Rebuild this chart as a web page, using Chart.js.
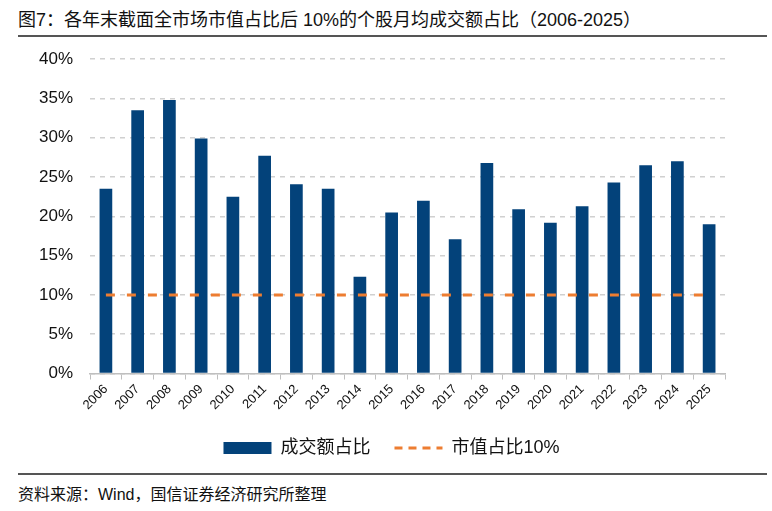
<!DOCTYPE html>
<html>
<head>
<meta charset="utf-8">
<script src="https://cdn.jsdelivr.net/npm/chart.js@4/dist/chart.umd.min.js"></script>
<style>
  body { margin: 0; background: #fff; }
  #wrap { position: relative; width: 772px; height: 511px; font-family: "Liberation Sans", "Noto Sans CJK SC", sans-serif; }
  #title { position: absolute; left: 18px; top: 5px; font-size: 18px; color: #111; white-space: nowrap; }
  #line1 { position: absolute; left: 18px; width: 749px; top: 35px; height: 0; border-top: 2px solid #555; }
  #line2 { position: absolute; left: 18px; width: 749px; top: 473px; height: 0; border-top: 2px solid #555; }
  #src { position: absolute; left: 18px; top: 481px; font-size: 16px; color: #111; white-space: nowrap; }
  #box { position: absolute; left: 0; top: 32px; width: 772px; height: 441px; }
</style>
</head>
<body>
<div id="wrap">
  <div id="title">图7：各年末截面全市场市值占比后 10%的个股月均成交额占比（2006-2025）</div>
  <div id="line1"></div>
  <div id="box"><canvas id="chart"></canvas></div>
  <div id="line2"></div>
  <div id="src">资料来源：Wind，国信证券经济研究所整理</div>
</div>
<script>
var years     = ['2006','2007','2008','2009','2010','2011','2012','2013','2014','2015',
                 '2016','2017','2018','2019','2020','2021','2022','2023','2024','2025'];
var turnover  = [23.5, 33.5, 34.8, 29.9, 22.5, 27.7, 24.1, 23.5, 12.3, 20.5,
                 22.0, 17.1, 26.8, 20.9, 19.2, 21.3, 24.3, 26.5, 27.0, 19.0];
var mktShare  = [10, 10, 10, 10, 10, 10, 10, 10, 10, 10,
                 10, 10, 10, 10, 10, 10, 10, 10, 10, 10];
var yTicks    = [0, 5, 10, 15, 20, 25, 30, 35, 40];

Chart.defaults.font.family = '"Liberation Sans", "Noto Sans CJK SC", sans-serif';
Chart.defaults.color = '#111';

// legend sits a bit right of the plot centre in the original
var legendShift = {
    id: 'legendShift',
    afterLayout: function(c) {
        if (c.legend) {
            c.legend.left  += 18;
            c.legend.right += 18;
        }
    }
};

var ctx = document.getElementById('chart');
var chart = new Chart(ctx, {
    type: 'bar',
    data: {
        labels: years,
        datasets: [
            {
                type: 'bar',
                label: '成交额占比',
                data: turnover,
                backgroundColor: '#03427A',
                borderWidth: 0,
                barPercentage: 0.4,
                categoryPercentage: 1,
                pointStyle: 'rect',
                order: 1
            },
            {
                type: 'line',
                label: '市值占比10%',
                data: mktShare,
                borderColor: '#ED7D31',
                backgroundColor: '#ED7D31',
                borderWidth: 3,
                borderDash: [9, 12],
                pointRadius: 0,
                pointStyle: 'line',
                fill: false,
                order: 0
            }
        ]
    },
    plugins: [legendShift],
    options: {
        responsive: true,
        maintainAspectRatio: false,
        animation: false,
        layout: { padding: { left: 22, right: 47, top: 4, bottom: 6 } },
        plugins: {
            tooltip: { enabled: false },
            legend: {
                position: 'bottom',
                labels: {
                    usePointStyle: true,
                    pointStyleWidth: 48,
                    boxHeight: 12,
                    padding: 24,
                    font: { size: 18 },
                    color: '#111',
                    generateLabels: function(c) {
                        var items = Chart.defaults.plugins.legend.labels.generateLabels(c);
                        items.sort(function(a, b) { return a.datasetIndex - b.datasetIndex; });
                        items.forEach(function(it) {
                            if (it.datasetIndex === 1) { it.lineDash = [8, 6]; }
                        });
                        return items;
                    }
                }
            }
        },
        scales: {
            x: {
                grid: { offset: true, drawOnChartArea: false, drawTicks: true, tickLength: 6, color: '#BFBFBF' },
                border: { display: true, color: '#BFBFBF', width: 1.5 },
                ticks: { minRotation: 45, maxRotation: 45, font: { size: 13 }, color: '#111', padding: 2 }
            },
            y: {
                min: 0,
                max: 40,
                afterBuildTicks: function(axis) {
                    axis.ticks = yTicks.map(function(v) { return { value: v }; });
                },
                grid: { color: '#D0D0D0', lineWidth: 1.5, drawTicks: false },
                border: { display: false, dash: [5, 5] },
                ticks: {
                    padding: 17,
                    font: { size: 17 },
                    color: '#111',
                    callback: function(v) { return v + '%'; }
                }
            }
        }
    }
});
</script>
</body>
</html>
